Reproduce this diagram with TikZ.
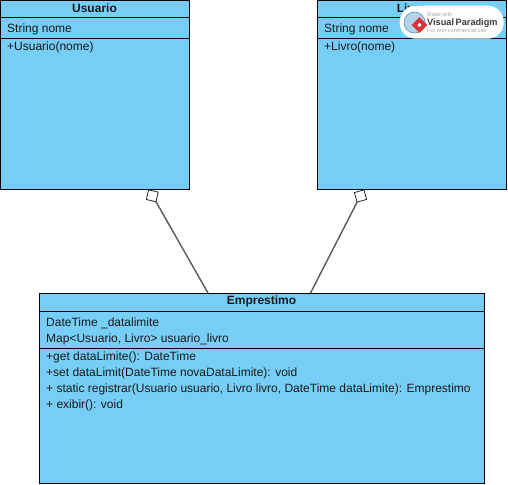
\documentclass[tikz,border=0pt]{standalone}
\usepackage{fontspec}
\setmainfont{Liberation Sans}
\usetikzlibrary{shapes.geometric}
\definecolor{umlfill}{HTML}{76CEF6}
\definecolor{connector}{HTML}{5A5A5A}
\definecolor{vpblue}{HTML}{5B9BD0}
\definecolor{vpred}{HTML}{D8343A}
\definecolor{vptext}{HTML}{3A3A3A}
\definecolor{vpgrey}{HTML}{A8A8A8}
\tikzset{
  x=1pt,y=-1pt,
  umlbox/.style={draw=black,fill=umlfill,line width=1pt,anchor=north west,inner sep=0pt,outer sep=0pt},
  umltitle/.style={font=\fontsize{12}{14}\selectfont\bfseries,inner sep=0pt,anchor=center,text=black!90},
  umltext/.style={font=\fontsize{12}{14}\selectfont,inner sep=0pt,anchor=base west,text=black!90},
  divider/.style={draw=black,line width=1pt},
  aggr/.style={draw=black!85,fill=white,shape=diamond,aspect=1,minimum size=14pt,inner sep=0pt,outer sep=0pt,line width=.8pt},
  assoc/.style={draw=connector,line width=1.4pt}
}
\begin{document}
\begin{tikzpicture}
\useasboundingbox (0,0) rectangle (508,484);
\fill[white] (0,0) rectangle (508,484);
% Usuario
\node[umlbox,minimum width=188.5pt,minimum height=189pt] (usuario) at (0.5,0.5) {};
\node[umltitle] (usuariot) at (94.5,8) {Usuario};
\draw[divider] (0.5,17.5) -- (189,17.5);
\node[umltext] (usuarioa) at (7,33) {String nome};
\draw[divider] (0.5,38.5) -- (189,38.5);
\node[umltext] (usuariom) at (7,51) {+Usuario(nome)};
% Livro
\node[umlbox,minimum width=188.5pt,minimum height=189pt] (livro) at (317.5,0.5) {};
\node[umltitle] (livrot) at (411.5,8) {Livro};
\draw[divider] (317.5,17.5) -- (506,17.5);
\node[umltext] (livroa) at (324,33) {String nome};
\draw[divider] (317.5,38.5) -- (506,38.5);
\node[umltext] (livrom) at (324,51) {+Livro(nome)};
% Emprestimo
\node[umlbox,minimum width=444.5pt,minimum height=189.5pt] (emp) at (39.5,293.5) {};
\node[umltitle] (empt) at (261.5,301.5) {Emprestimo};
\draw[divider] (39.5,311.5) -- (484,311.5);
\node[umltext] (empa1) at (46,326) {DateTime \_datalimite};
\node[umltext] (empa2) at (46,342) {Map<Usuario, Livro> usuario\_livro};
\draw[divider] (39.5,348.5) -- (484,348.5);
\node[umltext] (empm1) at (46,360) {+get dataLimite(): DateTime};
\node[umltext] (empm2) at (46,376) {+set dataLimit(DateTime novaDataLimite): void};
\node[umltext] (empm3) at (46,392) {+ static registrar(Usuario usuario, Livro livro, DateTime dataLimite): Emprestimo};
\node[umltext] (empm4) at (46,408) {+ exibir(): void};
% Aggregations
\node[aggr,rotate=32] (d1) at (152.3,195.8) {};
\node[aggr,rotate=-29] (d2) at (360.5,196) {};
\coordinate (e1) at (208,293);
\coordinate (e2) at (310.5,293);
\draw[assoc] (e1) -- (d1.south);
\draw[assoc] (e2) -- (d2.south);
% Watermark
\node[draw=none,fill=white,rounded corners=16pt,minimum width=104pt,minimum height=33pt,inner sep=0pt,anchor=north west] (vp) at (399.5,5.5) {};
\node[circle,draw=vpblue,fill=vpblue!45,minimum size=21pt,inner sep=0pt,line width=.7pt] (vpglobe) at (414.5,22.5) {};
\node[diamond,aspect=1,fill=vpred,minimum size=16pt,inner sep=0pt] (vplogo) at (419.5,25) {};
\node[diamond,aspect=1,fill=white,minimum size=4.5pt,inner sep=0pt] (vplogoc) at (419.5,25) {};
\node[inner sep=0pt,anchor=base west,text=vpgrey,font=\fontsize{5.5}{6}\selectfont] (vp1) at (427,17) {Made with};
\node[inner sep=0pt,anchor=base west,text=vptext,font=\fontsize{9.2}{11}\selectfont\bfseries] (vp2) at (427,25.5) {Visual\,Paradigm};
\node[inner sep=0pt,anchor=base west,text=vpgrey,font=\fontsize{5.5}{6}\selectfont] (vp3) at (427,32.5) {For non-commercial use};
\end{tikzpicture}
\end{document}
